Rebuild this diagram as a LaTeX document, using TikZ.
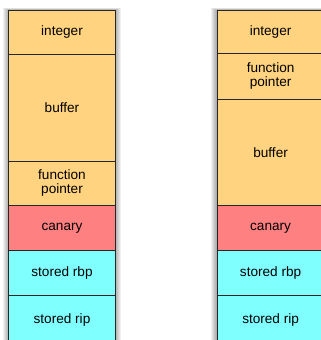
\documentclass[tikz,border=0pt]{standalone}
\usepackage{fontspec}
\setmainfont{Liberation Sans}
\definecolor{cellyellow}{RGB}{255,211,127}
\definecolor{cellred}{RGB}{255,128,128}
\definecolor{cellcyan}{RGB}{128,255,255}
\tikzset{
  cell/.style={draw=black!85, line width=0.9pt, rectangle, anchor=north west, outer sep=0pt,
    minimum width=106.6pt, inner sep=0pt, align=center, font=\fontsize{13.6}{15}\selectfont},
  yel/.style={cell, fill=cellyellow},
  red/.style={cell, fill=cellred},
  cyn/.style={cell, fill=cellcyan},
}
\begin{document}
\begin{tikzpicture}[x=1pt,y=1pt]
\useasboundingbox (0,0) rectangle (321,340);
\clip (0,0) rectangle (321,340);
\fill[white] (0,0) rectangle (321,340);
% shadows
\foreach \i in {1,...,6}{
  \fill[black, opacity=0.06] (8.7-\i,-10) rectangle (115.3+\i,330+\i*0.3);
  \fill[black, opacity=0.06] (217.3-\i,-10) rectangle (330+\i,330+\i*0.3);
}
% left stack
\node[yel, minimum height=44pt] (l1) at (8.7,330) {integer};
\node[yel, minimum height=107pt] (l2) at (l1.south west) {buffer};
\node[yel, minimum height=44.7pt] (l3) at (l2.south west) {function\\[-1pt]pointer};
\node[red, minimum height=45pt] (l4) at (l3.south west) {canary};
\node[cyn, minimum height=45pt] (l5) at (l4.south west) {stored rbp};
\node[cyn, minimum height=50pt] (l6) at (l5.south west) {\raisebox{5pt}{stored rip}};
% right stack
\node[yel, minimum height=43.3pt] (r1) at (217.3,330) {integer};
\node[yel, minimum height=45.7pt] (r2) at (r1.south west) {function\\[-1pt]pointer};
\node[yel, minimum height=106.7pt] (r3) at (r2.south west) {buffer};
\node[red, minimum height=45pt] (r4) at (r3.south west) {canary};
\node[cyn, minimum height=45pt] (r5) at (r4.south west) {stored rbp};
\node[cyn, minimum height=50pt] (r6) at (r5.south west) {\raisebox{5pt}{stored rip}};
\end{tikzpicture}
\end{document}
